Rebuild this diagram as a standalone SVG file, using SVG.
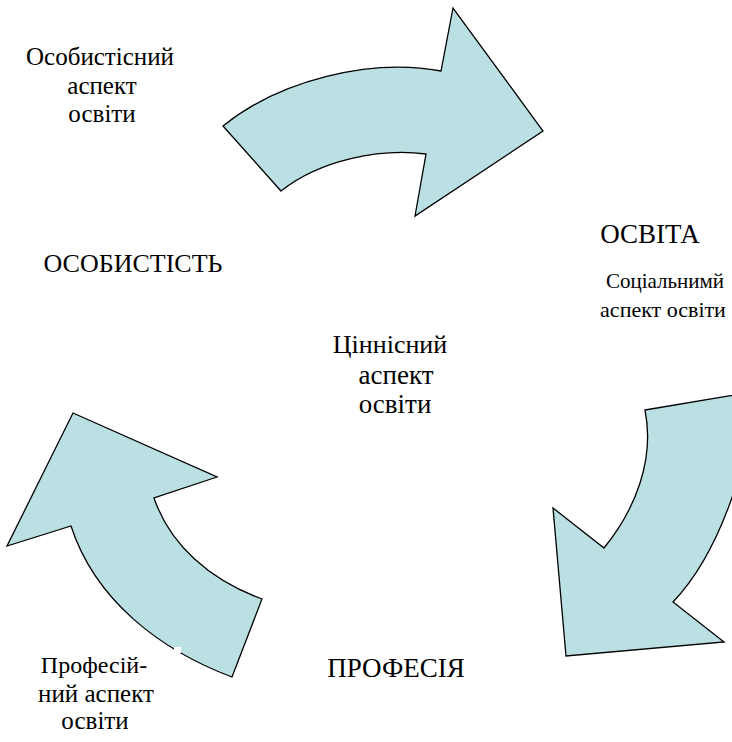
<svg xmlns="http://www.w3.org/2000/svg" width="732" height="742" viewBox="0 0 732 742">
  <style>
    .arrow { fill: #bbe0e3; stroke: #000; stroke-width: 1.3; stroke-linejoin: miter; }
    text { font-family: 'Liberation Serif', 'Times New Roman', serif; fill: #000; text-anchor: middle; }
  </style>
  <rect width="732" height="742" fill="#fff"/>

  <g id="connectors">
    <!-- top arrow: personality -> education -->
    <path id="arrow-top" class="arrow" d="M223,126 C280,80 370,58 441,71 L453,8 L543,131 L415,216 L426,154 C380,148 320,160 281,191 Z"/>
    <!-- right arrow: education -> profession (tail runs past the right edge) -->
    <path id="arrow-right" class="arrow" d="M645,410 L752,392 C752,460 718,555 673,602 L724,642 L566,656 L553,508 L604,548 C635,510 655,460 645,410 Z"/>
    <!-- left arrow: profession -> personality -->
    <path id="arrow-left" class="arrow" d="M73,413 L217,477 L154,498 C170,545 210,580 262,599 L232,677 C160,650 95,600 71,526 L7,546 Z"/>
    <rect x="174" y="647" width="7" height="6" fill="#fff"/>
  </g>

  <g id="node-personal-aspect">
    <text x="100" y="65" font-size="25">Особистісний</text>
    <text x="102" y="94" font-size="25">аспект</text>
    <text x="102" y="122" font-size="25">освіти</text>
  </g>

  <g id="node-personality">
    <text x="133" y="272" font-size="26">ОСОБИСТІСТЬ</text>
  </g>

  <g id="node-education">
    <text x="650" y="243" font-size="27">ОСВІТА</text>
  </g>

  <g id="node-social-aspect">
    <text x="665" y="288" font-size="21">Соціальнимй</text>
    <text x="663" y="317" font-size="22">аспект освіти</text>
  </g>

  <g id="node-value-aspect">
    <text x="390" y="353" font-size="26">Ціннісний</text>
    <text x="396" y="384" font-size="27">аспект</text>
    <text x="395" y="413" font-size="27">освіти</text>
  </g>

  <g id="node-profession">
    <text x="396" y="677" font-size="27">ПРОФЕСІЯ</text>
  </g>

  <g id="node-professional-aspect">
    <text x="94" y="673" font-size="24">Професій-</text>
    <text x="96" y="702" font-size="25">ний аспект</text>
    <text x="95" y="729" font-size="25">освіти</text>
  </g>
</svg>
